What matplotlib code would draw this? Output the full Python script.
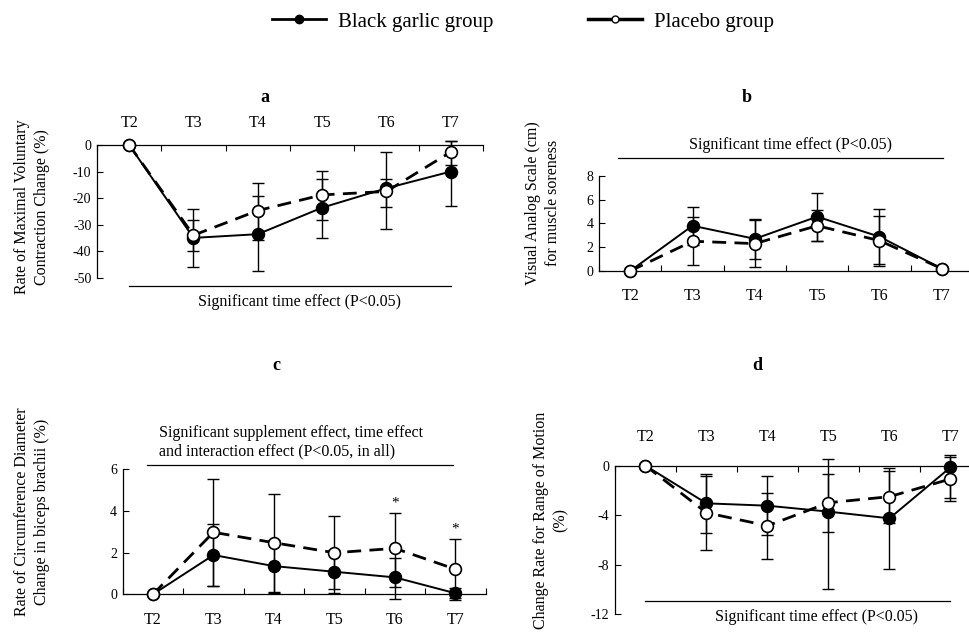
import matplotlib
matplotlib.use("Agg")
import matplotlib.pyplot as plt
from matplotlib.lines import Line2D
import numpy as np

plt.rcParams['font.family'] = ['Liberation Serif', 'DejaVu Serif']
plt.rcParams['axes.unicode_minus'] = False

times = ["T2", "T3", "T4", "T5", "T6", "T7"]

# Panel a: Maximal voluntary contraction change (%)
a_black = [0, -35.0, -33.6, -23.6, -16.3, -10.0]
a_black_lo = [0, 10.8, 14.0, 11.4, 7.0, 13.0]
a_black_hi = [0, 10.8, 14.2, 10.8, 3.5, 11.6]
a_plac = [0, -34.0, -24.7, -18.8, -17.5, -2.6]
a_plac_lo = [0, 5.8, 11.0, 9.5, 14.3, 4.9]
a_plac_hi = [0, 5.7, 10.5, 9.1, 15.0, 4.2]

# Panel b: Visual analog scale (cm)
b_black = [0, 3.8, 2.7, 4.56, 2.88, 0.2]
b_black_lo = [0, 1.6, 1.7, 2.0, 2.3, 0]
b_black_hi = [0, 1.6, 1.7, 2.0, 2.3, 0]
b_plac = [0, 2.5, 2.3, 3.8, 2.55, 0.2]
b_plac_lo = [0, 2.0, 2.0, 1.3, 2.1, 0]
b_plac_hi = [0, 2.0, 2.0, 1.3, 2.1, 0]

# Panel c: Circumference diameter change (%)
c_black = [0, 1.88, 1.35, 1.08, 0.81, 0.05]
c_black_lo = [0, 1.5, 1.27, 1.03, 1.04, 0.25]
c_black_hi = [0, 1.5, 1.27, 1.03, 0.91, 0.25]
c_plac = [0, 2.97, 2.47, 1.99, 2.2, 1.2]
c_plac_lo = [0, 2.56, 2.35, 1.76, 1.87, 1.46]
c_plac_hi = [0, 2.56, 2.35, 1.76, 1.7, 1.46]
c_star = [False, False, False, False, True, True]

# Panel d: Range of motion change (%)
d_black = [0, -3.04, -3.23, -3.71, -4.25, -0.13]
d_black_lo = [0, 2.4, 2.4, 6.25, 4.1, 2.5]
d_black_hi = [0, 2.4, 2.4, 4.25, 4.1, 1.0]
d_plac = [0, -3.8, -4.85, -2.99, -2.5, -1.07]
d_plac_lo = [0, 3.0, 2.65, 2.4, 2.1, 1.75]
d_plac_hi = [0, 3.0, 2.65, 2.3, 2.1, 1.75]

W, H = 970, 632
fig = plt.figure(figsize=(W / 100, H / 100), dpi=100)


def px_axes(left, right, top, bottom):
    return fig.add_axes([left / W, 1 - bottom / H, (right - left) / W, (bottom - top) / H])


def draw(ax, bl, bl_lo, bl_hi, pl, pl_lo, pl_hi):
    x = np.arange(len(times))
    ax.errorbar(x, bl, yerr=[bl_lo, bl_hi], fmt='none', ecolor='black',
                elinewidth=1.0, capsize=4, capthick=1.0, zorder=2, clip_on=False)
    ax.errorbar(x, pl, yerr=[pl_lo, pl_hi], fmt='none', ecolor='black',
                elinewidth=1.0, capsize=4, capthick=1.0, zorder=2, clip_on=False)
    ax.plot(x, bl, '-', color='black', lw=1.4, marker='o', ms=8.5,
            mfc='black', mec='black', mew=1.2, zorder=3, clip_on=False)
    ax.plot(x, pl, color='black', lw=2.0, linestyle=(0, (5, 3)), marker='o', ms=8.5,
            mfc='white', mec='black', mew=1.2, zorder=4, clip_on=False)


def style(ax, top, pad):
    ax.set_xlim(-0.5, 5.5)
    ax.set_xticks(range(len(times)))
    ax.set_xticklabels(times)
    ax.set_xticks(np.arange(-0.5, 6.0, 1.0), minor=True)
    ax.tick_params(axis='x', which='major', length=0, pad=pad, labelsize=11.5)
    ax.tick_params(axis='x', which='minor', length=4, direction='in', width=0.8)
    ax.tick_params(axis='y', length=4, direction='in', width=0.8, labelsize=10, pad=4)
    ax.spines['right'].set_visible(False)
    if top:
        ax.xaxis.set_ticks_position('top')
        ax.xaxis.set_label_position('top')
        ax.spines['bottom'].set_visible(False)
    else:
        ax.spines['top'].set_visible(False)
    for s in ax.spines.values():
        s.set_linewidth(0.9)
    ax.patch.set_alpha(0)


# ---- a ----
axa = px_axes(97, 483, 145, 277.7)
draw(axa, a_black, a_black_lo, a_black_hi, a_plac, a_plac_lo, a_plac_hi)
style(axa, True, 10)
axa.set_ylim(-50, 0)
axa.set_yticks([0, -10, -20, -30, -40, -50])
axa.plot([0, 5], [-53, -53], color='black', lw=0.9, clip_on=False)
axa.text(2.64, -59.2, "Significant time effect (P<0.05)", ha='center', va='center', fontsize=11.5)

# ---- b ----
axb = px_axes(599, 973, 175.7, 271)
draw(axb, b_black, b_black_lo, b_black_hi, b_plac, b_plac_lo, b_plac_hi)
style(axb, False, 12)
axb.set_ylim(0, 8)
axb.set_yticks([0, 2, 4, 6, 8])
axb.plot([-0.2, 5.02], [9.51, 9.51], color='black', lw=0.9, clip_on=False)
axb.text(2.57, 10.58, "Significant time effect (P<0.05)", ha='center', va='center', fontsize=11.5)

# ---- c ----
axc = px_axes(122.7, 485.7, 469, 594.3)
draw(axc, c_black, c_black_lo, c_black_hi, c_plac, c_plac_lo, c_plac_hi)
style(axc, False, 13)
axc.set_ylim(0, 6)
axc.set_yticks([0, 2, 4, 6])
axc.plot([-0.1, 4.96], [6.2, 6.2], color='black', lw=0.9, clip_on=False)
axc.text(0.1, 7.72, "Significant supplement effect, time effect", ha='left', va='center', fontsize=11.5)
axc.text(0.1, 6.83, "and interaction effect (P<0.05, in all)", ha='left', va='center', fontsize=11.5)
for i, s in enumerate(c_star):
    if s:
        axc.text(i, c_plac[i] + c_plac_hi[i] + 0.45, "*", ha='center', va='center', fontsize=11)

# ---- d ----
axd = px_axes(615, 981, 465.7, 614.3)
draw(axd, d_black, d_black_lo, d_black_hi, d_plac, d_plac_lo, d_plac_hi)
style(axd, True, 15)
axd.set_ylim(-12, 0)
axd.set_yticks([0, -4, -8, -12])
axd.plot([0, 5], [-10.93, -10.93], color='black', lw=0.9, clip_on=False)
axd.text(2.8, -12.2, "Significant time effect (P<0.05)", ha='center', va='center', fontsize=11.5)

# y labels
ylab_kw = dict(rotation=90, ha='center', va='center', multialignment='center',
               fontsize=11.5, linespacing=1.35)
fig.text(32 / W, 1 - 207 / H, "Rate of Maximal Voluntary\nContraction Change (%)", **ylab_kw)
fig.text(543 / W, 1 - 203 / H, "Visual Analog Scale (cm)\nfor muscle soreness", **ylab_kw)
fig.text(32 / W, 1 - 512 / H, "Rate of Circumference Diameter\nChange in biceps brachii (%)", **ylab_kw)
fig.text(551 / W, 1 - 520 / H, "Change Rate for Range of Motion\n(%)", **ylab_kw)

# panel letters
for lab, (px, py) in zip("abcd", [(265, 97), (747, 97), (276, 366), (757, 366)]):
    fig.text(px / W, 1 - py / H, lab, ha='center', va='center', fontsize=13, fontweight='bold')

# legend
h1 = Line2D([], [], color='black', lw=2.0, marker='o', ms=6, mfc='black', mec='black')
h2 = Line2D([], [], color='black', lw=2.5, marker='o', ms=5, mfc='white', mec='black', mew=1.0)
fig.legend([h1, h2], ["Black garlic group", "Placebo group"], loc='center',
           bbox_to_anchor=(523 / W, 1 - 22 / H), ncol=2, frameon=False, fontsize=15,
           handlelength=2.6, columnspacing=4.5, handletextpad=0.6)

fig.savefig("out.png", dpi=100)
